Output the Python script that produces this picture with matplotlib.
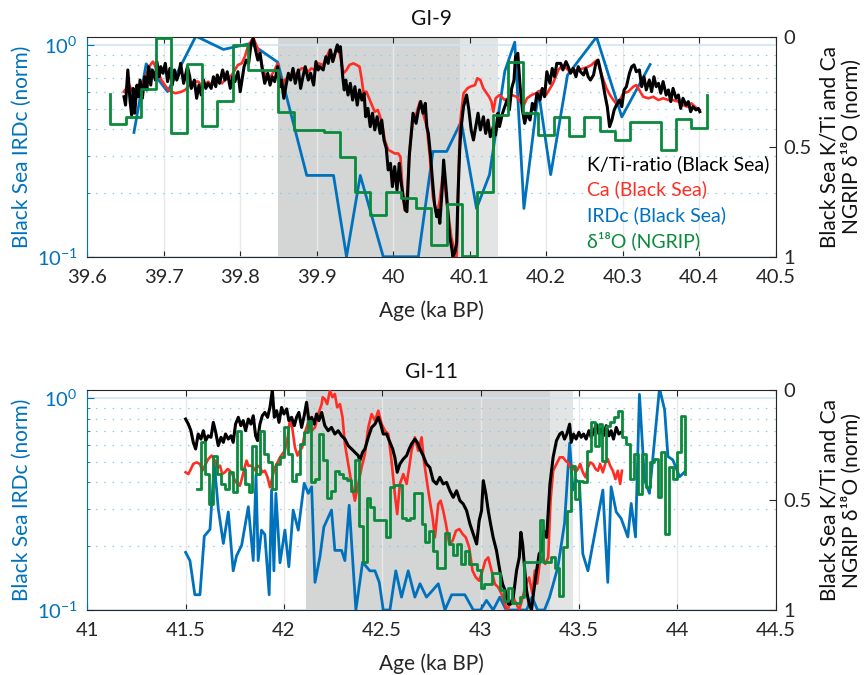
import numpy as np
import matplotlib
matplotlib.use('Agg')
import matplotlib.pyplot as plt
from matplotlib.ticker import FixedLocator, NullFormatter, FormatStrFormatter

plt.rcParams['font.family'] = ['Lato', 'DejaVu Sans']
plt.rcParams['axes.unicode_minus'] = False

C_KTI = '#000000'
C_CA = '#ff2e24'
C_IRD = '#0072bd'
C_D18O = '#0b8a3c'
C_AX = '#262626'

# ---------------- GI-9 (top panel) ----------------
# K/Ti ratio, normalised (right axis, 0 at top)
gi9_kti = [
    (39.648, 0.272), (39.650, 0.310), (39.653, 0.150), (39.656, 0.294), (39.658, 0.355),
    (39.660, 0.234), (39.662, 0.347), (39.665, 0.219), (39.667, 0.272), (39.669, 0.196),
    (39.672, 0.279), (39.675, 0.181), (39.678, 0.241), (39.680, 0.135), (39.683, 0.219),
    (39.685, 0.150), (39.689, 0.196), (39.691, 0.112), (39.694, 0.181), (39.696, 0.135),
    (39.699, 0.165), (39.702, 0.120), (39.705, 0.203), (39.708, 0.143), (39.711, 0.219),
    (39.714, 0.150), (39.717, 0.196), (39.720, 0.165), (39.722, 0.120), (39.726, 0.211),
    (39.729, 0.165), (39.731, 0.135), (39.734, 0.181), (39.736, 0.234), (39.740, 0.196),
    (39.743, 0.279), (39.746, 0.219), (39.749, 0.264), (39.752, 0.196), (39.755, 0.234),
    (39.758, 0.211), (39.762, 0.234), (39.765, 0.181), (39.768, 0.226), (39.770, 0.173),
    (39.773, 0.211), (39.777, 0.150), (39.780, 0.196), (39.783, 0.158), (39.787, 0.234),
    (39.790, 0.181), (39.793, 0.203), (39.797, 0.158), (39.800, 0.249), (39.803, 0.181),
    (39.805, 0.135), (39.808, 0.105), (39.811, 0.120), (39.814, 0.036), (39.817, 0.006),
    (39.820, 0.059), (39.823, 0.105), (39.826, 0.074), (39.829, 0.150), (39.832, 0.211),
    (39.836, 0.165), (39.839, 0.219), (39.842, 0.181), (39.845, 0.203), (39.849, 0.135),
    (39.852, 0.226), (39.854, 0.196), (39.857, 0.279), (39.860, 0.219), (39.863, 0.165),
    (39.866, 0.196), (39.869, 0.143), (39.872, 0.211), (39.876, 0.150), (39.879, 0.234),
    (39.882, 0.181), (39.885, 0.135), (39.889, 0.196), (39.892, 0.165), (39.896, 0.219),
    (39.899, 0.112), (39.902, 0.150), (39.904, 0.135), (39.9085, 0.150), (39.912, 0.090),
    (39.915, 0.120), (39.918, 0.059), (39.921, 0.112), (39.924, 0.074), (39.927, 0.036),
    (39.929, 0.067), (39.931, 0.044), (39.934, 0.181), (39.936, 0.241), (39.938, 0.196),
    (39.941, 0.264), (39.944, 0.211), (39.947, 0.287), (39.950, 0.226), (39.953, 0.310),
    (39.956, 0.241), (39.959, 0.287), (39.962, 0.256), (39.964, 0.363), (39.967, 0.325),
    (39.970, 0.408), (39.973, 0.347), (39.976, 0.423), (39.979, 0.363), (39.983, 0.439),
    (39.985, 0.378), (39.988, 0.469), (39.991, 0.507), (39.9935, 0.605), (39.9965, 0.575),
    (39.999, 0.681), (40.002, 0.590), (40.005, 0.697), (40.008, 0.575), (40.010, 0.651),
    (40.013, 0.727), (40.016, 0.788), (40.018, 0.795), (40.021, 0.545), (40.024, 0.423),
    (40.026, 0.347), (40.030, 0.393), (40.033, 0.332), (40.036, 0.294), (40.039, 0.347),
    (40.042, 0.302), (40.044, 0.408), (40.046, 0.439), (40.049, 0.545), (40.051, 0.636),
    (40.054, 0.757), (40.057, 0.818), (40.059, 0.788), (40.061, 0.848), (40.064, 0.697),
    (40.066, 0.560), (40.069, 0.681), (40.072, 0.818), (40.074, 0.909), (40.077, 0.970),
    (40.078, 1.000), (40.081, 0.977), (40.083, 0.939), (40.085, 0.697), (40.087, 0.514),
    (40.089, 0.408), (40.092, 0.317), (40.096, 0.264), (40.099, 0.332), (40.102, 0.423),
    (40.105, 0.469), (40.108, 0.408), (40.111, 0.347), (40.114, 0.423), (40.118, 0.363),
    (40.121, 0.439), (40.124, 0.378), (40.127, 0.454), (40.131, 0.408), (40.134, 0.446),
    (40.137, 0.347), (40.139, 0.408), (40.143, 0.347), (40.146, 0.317), (40.149, 0.287),
    (40.152, 0.332), (40.155, 0.234), (40.158, 0.196), (40.160, 0.090), (40.163, 0.074),
    (40.166, 0.226), (40.169, 0.332), (40.172, 0.393), (40.175, 0.347), (40.179, 0.378),
    (40.182, 0.302), (40.185, 0.332), (40.188, 0.256), (40.192, 0.287), (40.195, 0.234),
    (40.198, 0.272), (40.201, 0.158), (40.205, 0.211), (40.208, 0.143), (40.211, 0.181),
    (40.214, 0.120), (40.219, 0.120), (40.222, 0.150), (40.226, 0.112), (40.229, 0.135),
    (40.232, 0.165), (40.2355, 0.143), (40.239, 0.181), (40.242, 0.135), (40.245, 0.158),
    (40.249, 0.173), (40.252, 0.143), (40.255, 0.181), (40.258, 0.196), (40.262, 0.173),
    (40.265, 0.120), (40.268, 0.105), (40.270, 0.135), (40.274, 0.203), (40.277, 0.264),
    (40.280, 0.317), (40.283, 0.408), (40.286, 0.378), (40.289, 0.332), (40.292, 0.310),
    (40.296, 0.287), (40.299, 0.317), (40.302, 0.241), (40.305, 0.226), (40.309, 0.165),
    (40.312, 0.135), (40.315, 0.127), (40.318, 0.158), (40.322, 0.150), (40.325, 0.226),
    (40.328, 0.181), (40.331, 0.241), (40.335, 0.196), (40.338, 0.249), (40.341, 0.181),
    (40.344, 0.226), (40.347, 0.211), (40.350, 0.256), (40.353, 0.203), (40.357, 0.264),
    (40.360, 0.241), (40.363, 0.294), (40.366, 0.234), (40.370, 0.279), (40.373, 0.264),
    (40.376, 0.325), (40.379, 0.279), (40.383, 0.310), (40.386, 0.294), (40.389, 0.340),
    (40.392, 0.317), (40.396, 0.332), (40.399, 0.325), (40.401, 0.340),
]

# Ca, normalised (right axis)
gi9_ca = [
    (39.648, 0.249), (39.651, 0.234), (39.654, 0.211), (39.658, 0.241), (39.661, 0.256),
    (39.6645, 0.272), (39.668, 0.234), (39.671, 0.211), (39.675, 0.196), (39.678, 0.165),
    (39.681, 0.135), (39.684, 0.120), (39.686, 0.112), (39.689, 0.135), (39.693, 0.165),
    (39.697, 0.196), (39.7015, 0.219), (39.706, 0.241), (39.710, 0.249), (39.715, 0.256),
    (39.719, 0.253), (39.723, 0.249), (39.728, 0.241), (39.732, 0.226), (39.736, 0.211),
    (39.741, 0.203), (39.745, 0.203), (39.749, 0.219), (39.754, 0.219), (39.758, 0.203),
    (39.7625, 0.219), (39.767, 0.211), (39.771, 0.196), (39.776, 0.211), (39.780, 0.196),
    (39.784, 0.188), (39.789, 0.173), (39.793, 0.150), (39.797, 0.127), (39.802, 0.120),
    (39.806, 0.090), (39.810, 0.044), (39.815, 0.014), (39.817, 0.000), (39.819, 0.021),
    (39.823, 0.052), (39.826, 0.090), (39.829, 0.143), (39.832, 0.165), (39.837, 0.196),
    (39.841, 0.173), (39.845, 0.150), (39.849, 0.120), (39.852, 0.196), (39.855, 0.219),
    (39.858, 0.196), (39.863, 0.181), (39.867, 0.181), (39.871, 0.173), (39.876, 0.158),
    (39.880, 0.143), (39.885, 0.143), (39.889, 0.158), (39.893, 0.143), (39.898, 0.150),
    (39.902, 0.120), (39.9085, 0.127), (39.913, 0.090), (39.917, 0.059), (39.922, 0.105),
    (39.926, 0.044), (39.930, 0.074), (39.935, 0.165), (39.939, 0.150), (39.943, 0.127),
    (39.948, 0.120), (39.952, 0.127), (39.956, 0.135), (39.959, 0.196), (39.961, 0.249),
    (39.965, 0.249), (39.9695, 0.287), (39.973, 0.317), (39.976, 0.340), (39.980, 0.332),
    (39.985, 0.385), (39.989, 0.469), (39.9935, 0.514), (39.998, 0.522), (40.002, 0.530),
    (40.0065, 0.530), (40.0095, 0.545), (40.012, 0.681), (40.015, 0.788), (40.018, 0.727),
    (40.022, 0.499), (40.026, 0.378), (40.0305, 0.347), (40.035, 0.294), (40.039, 0.347),
    (40.044, 0.408), (40.048, 0.545), (40.052, 0.727), (40.057, 0.810), (40.061, 0.742),
    (40.0645, 0.636), (40.0675, 0.681), (40.072, 0.803), (40.076, 0.909), (40.081, 0.985),
    (40.083, 1.015), (40.087, 0.423), (40.089, 0.347), (40.092, 0.256), (40.097, 0.234),
    (40.101, 0.226), (40.107, 0.219), (40.110, 0.188), (40.114, 0.196), (40.118, 0.234),
    (40.121, 0.249), (40.1255, 0.272), (40.1285, 0.294), (40.131, 0.340), (40.134, 0.279),
    (40.139, 0.264), (40.146, 0.287), (40.150, 0.279), (40.155, 0.264), (40.1615, 0.272),
    (40.166, 0.294), (40.171, 0.310), (40.175, 0.279), (40.181, 0.264), (40.187, 0.256),
    (40.194, 0.241), (40.200, 0.264), (40.209, 0.211), (40.216, 0.150), (40.222, 0.127),
    (40.231, 0.158), (40.240, 0.150), (40.249, 0.143), (40.255, 0.135), (40.2595, 0.127),
    (40.264, 0.112), (40.267, 0.105), (40.270, 0.143), (40.275, 0.196), (40.279, 0.234),
    (40.2835, 0.264), (40.288, 0.287), (40.292, 0.305), (40.2965, 0.287), (40.301, 0.256),
    (40.3075, 0.249), (40.314, 0.226), (40.318, 0.219), (40.323, 0.249), (40.327, 0.272),
    (40.334, 0.279), (40.340, 0.272), (40.347, 0.287), (40.353, 0.279), (40.360, 0.287),
    (40.366, 0.287), (40.373, 0.294), (40.379, 0.310), (40.3845, 0.317), (40.390, 0.302),
    (40.397, 0.325), (40.401, 0.332),
]

# IRDc (left log axis)
gi9_irdc = [
    (39.661, 0.386), (39.677, 0.814), (39.705, 0.602), (39.742, 1.10), (39.778, 0.952),
    (39.8135, 1.016), (39.849, 0.829), (39.887, 0.242), (39.922, 0.242), (39.939, 0.100),
    (39.957, 0.242), (39.987, 0.100), (40.033, 0.100), (40.052, 0.314), (40.070, 0.314),
    (40.089, 0.435), (40.109, 0.169), (40.126, 0.244), (40.146, 0.751), (40.159, 1.03),
    (40.171, 0.169), (40.190, 0.604), (40.206, 0.244), (40.228, 0.720), (40.266, 1.09),
    (40.299, 0.457), (40.336, 0.808),
]

# NGRIP d18O, 20-yr bins (right axis)
gi9_d18o_edges = [
    39.63, 39.65, 39.67, 39.69, 39.71, 39.73, 39.75, 39.77, 39.79, 39.81,
    39.83, 39.85, 39.87, 39.89, 39.91, 39.93, 39.95, 39.97, 39.99, 40.01,
    40.03, 40.05, 40.07, 40.09, 40.11, 40.13, 40.15, 40.17, 40.19, 40.21,
    40.23, 40.25, 40.27, 40.29, 40.31, 40.33, 40.35, 40.37, 40.39, 40.41,
]
gi9_d18o = [
    0.396, 0.366, 0.238, 0.005, 0.439, 0.123, 0.404, 0.290, 0.036, 0.150,
    0.150, 0.341, 0.423, 0.425, 0.431, 0.545, 0.707, 0.810, 0.707, 0.734,
    0.780, 0.947, 0.762, 0.995, 0.707, 0.355, 0.112, 0.347, 0.446, 0.362,
    0.452, 0.365, 0.430, 0.470, 0.385, 0.385, 0.514, 0.375, 0.416,
]
gi9_d18o_ends = (0.26, 0.264)

# ---------------- GI-11 (bottom panel) ----------------
gi11_kti = [
    (41.500, 0.132), (41.514, 0.155), (41.527, 0.185), (41.539, 0.238), (41.551, 0.268),
    (41.564, 0.200), (41.578, 0.223), (41.590, 0.185), (41.602, 0.230), (41.615, 0.208),
    (41.629, 0.215), (41.641, 0.147), (41.653, 0.192), (41.666, 0.253), (41.680, 0.215),
    (41.692, 0.238), (41.703, 0.200), (41.717, 0.223), (41.731, 0.208), (41.742, 0.238),
    (41.754, 0.155), (41.768, 0.124), (41.781, 0.162), (41.793, 0.139), (41.805, 0.185),
    (41.819, 0.132), (41.832, 0.155), (41.844, 0.117), (41.856, 0.208), (41.866, 0.230),
    (41.878, 0.155), (41.890, 0.117), (41.903, 0.102), (41.917, 0.124), (41.929, 0.079),
    (41.941, 0.000), (41.951, 0.124), (41.963, 0.094), (41.975, 0.147), (41.988, 0.079),
    (42.000, 0.109), (42.014, 0.086), (42.025, 0.139), (42.039, 0.124), (42.053, 0.162),
    (42.064, 0.124), (42.076, 0.102), (42.090, 0.170), (42.103, 0.117), (42.115, 0.056),
    (42.127, 0.139), (42.141, 0.124), (42.154, 0.155), (42.166, 0.109), (42.178, 0.139),
    (42.192, 0.102), (42.208, 0.162), (42.225, 0.185), (42.242, 0.170), (42.259, 0.200),
    (42.276, 0.185), (42.293, 0.208), (42.310, 0.223), (42.327, 0.253), (42.344, 0.268),
    (42.361, 0.283), (42.378, 0.298), (42.386, 0.321), (42.400, 0.283), (42.412, 0.268),
    (42.429, 0.215), (42.446, 0.170), (42.463, 0.155), (42.480, 0.124), (42.492, 0.155),
    (42.505, 0.200), (42.522, 0.200), (42.539, 0.238), (42.553, 0.268), (42.564, 0.306),
    (42.576, 0.374), (42.590, 0.336), (42.607, 0.314), (42.624, 0.298), (42.637, 0.268),
    (42.649, 0.245), (42.666, 0.223), (42.678, 0.238), (42.692, 0.268), (42.708, 0.298),
    (42.725, 0.336), (42.742, 0.352), (42.759, 0.412), (42.776, 0.427), (42.793, 0.397),
    (42.810, 0.427), (42.827, 0.420), (42.844, 0.458), (42.861, 0.488), (42.878, 0.458),
    (42.895, 0.503), (42.912, 0.518), (42.929, 0.548), (42.946, 0.609), (42.963, 0.655),
    (42.980, 0.700), (42.993, 0.594), (43.005, 0.548), (43.014, 0.412), (43.027, 0.473),
    (43.039, 0.548), (43.051, 0.609), (43.064, 0.670), (43.081, 0.730), (43.098, 0.821),
    (43.112, 0.882), (43.125, 0.912), (43.141, 0.973), (43.153, 0.973), (43.166, 0.943),
    (43.183, 0.821), (43.197, 0.761), (43.205, 0.647), (43.214, 0.700), (43.225, 0.821),
    (43.234, 0.912), (43.247, 0.973), (43.259, 1.000), (43.271, 0.912), (43.285, 0.821),
    (43.298, 0.745), (43.310, 0.730), (43.322, 0.640), (43.336, 0.670), (43.353, 0.427),
    (43.369, 0.306), (43.386, 0.230), (43.403, 0.200), (43.415, 0.192), (43.427, 0.223),
    (43.439, 0.200), (43.453, 0.155), (43.461, 0.238), (43.473, 0.200), (43.486, 0.223),
    (43.500, 0.192), (43.512, 0.215), (43.524, 0.200), (43.537, 0.223), (43.551, 0.185),
    (43.563, 0.215), (43.575, 0.192), (43.588, 0.155), (43.602, 0.200), (43.614, 0.177),
    (43.625, 0.208), (43.639, 0.162), (43.653, 0.208), (43.664, 0.185), (43.676, 0.223),
    (43.690, 0.170), (43.703, 0.200), (43.715, 0.192),
]

gi11_ca = [
    (41.500, 0.374), (41.514, 0.382), (41.527, 0.359), (41.539, 0.336), (41.556, 0.329),
    (41.573, 0.336), (41.585, 0.367), (41.598, 0.344), (41.615, 0.314), (41.632, 0.298),
    (41.649, 0.321), (41.663, 0.352), (41.675, 0.344), (41.686, 0.382), (41.700, 0.374),
    (41.714, 0.359), (41.725, 0.367), (41.737, 0.382), (41.751, 0.412), (41.764, 0.427),
    (41.776, 0.435), (41.788, 0.397), (41.798, 0.359), (41.810, 0.321), (41.819, 0.344),
    (41.832, 0.344), (41.844, 0.352), (41.856, 0.367), (41.866, 0.344), (41.878, 0.352),
    (41.890, 0.374), (41.903, 0.367), (41.917, 0.397), (41.929, 0.442), (41.941, 0.397),
    (41.954, 0.352), (41.968, 0.329), (41.980, 0.306), (41.992, 0.291), (42.005, 0.276),
    (42.019, 0.215), (42.031, 0.132), (42.042, 0.170), (42.056, 0.261), (42.069, 0.298),
    (42.081, 0.276), (42.093, 0.261), (42.107, 0.192), (42.124, 0.147), (42.141, 0.185),
    (42.158, 0.170), (42.175, 0.109), (42.192, 0.064), (42.197, 0.033), (42.208, 0.041),
    (42.220, 0.064), (42.234, 0.003), (42.247, 0.033), (42.259, 0.018), (42.271, 0.079),
    (42.285, 0.064), (42.298, 0.124), (42.310, 0.245), (42.327, 0.336), (42.344, 0.427),
    (42.361, 0.503), (42.378, 0.427), (42.395, 0.352), (42.412, 0.291), (42.429, 0.170),
    (42.446, 0.109), (42.463, 0.139), (42.480, 0.094), (42.497, 0.155), (42.514, 0.185),
    (42.531, 0.200), (42.547, 0.321), (42.564, 0.473), (42.576, 0.564), (42.590, 0.427),
    (42.607, 0.382), (42.624, 0.427), (42.637, 0.352), (42.649, 0.276), (42.666, 0.215),
    (42.683, 0.276), (42.700, 0.215), (42.712, 0.321), (42.729, 0.427), (42.742, 0.503),
    (42.756, 0.579), (42.768, 0.670), (42.785, 0.518), (42.797, 0.503), (42.810, 0.548),
    (42.824, 0.609), (42.841, 0.700), (42.858, 0.685), (42.875, 0.640), (42.892, 0.632),
    (42.909, 0.655), (42.925, 0.670), (42.942, 0.715), (42.959, 0.821), (42.976, 0.852),
    (42.993, 0.867), (43.010, 0.821), (43.024, 0.776), (43.039, 0.761), (43.056, 0.821),
    (43.073, 0.882), (43.090, 0.897), (43.107, 0.927), (43.124, 0.973), (43.136, 1.000),
    (43.149, 0.973), (43.166, 0.943), (43.183, 0.973), (43.197, 1.000), (43.214, 0.943),
    (43.231, 0.882), (43.247, 0.852), (43.264, 0.927), (43.276, 0.821), (43.288, 0.880),
    (43.302, 0.776), (43.315, 0.761), (43.329, 0.791), (43.344, 0.761), (43.356, 0.503),
    (43.369, 0.367), (43.386, 0.336), (43.403, 0.306), (43.419, 0.306), (43.432, 0.321),
    (43.444, 0.329), (43.456, 0.352), (43.469, 0.344), (43.483, 0.374), (43.495, 0.359),
    (43.507, 0.336), (43.520, 0.374), (43.534, 0.397), (43.546, 0.352), (43.558, 0.329),
    (43.571, 0.336), (43.585, 0.359), (43.597, 0.367), (43.608, 0.336), (43.622, 0.374),
    (43.636, 0.329), (43.647, 0.314), (43.659, 0.344), (43.673, 0.367), (43.686, 0.405),
    (43.698, 0.367), (43.710, 0.427), (43.719, 0.367),
]

gi11_irdc = [
    (41.500, 0.187), (41.522, 0.171), (41.547, 0.118), (41.573, 0.118), (41.595, 0.223),
    (41.624, 0.240), (41.646, 0.492), (41.666, 0.301), (41.692, 0.206), (41.717, 0.290),
    (41.742, 0.153), (41.759, 0.180), (41.785, 0.202), (41.819, 0.307), (41.844, 0.171),
    (41.858, 0.434), (41.869, 0.171), (41.886, 0.238), (41.903, 0.227), (41.925, 0.118),
    (41.937, 0.368), (41.949, 0.153), (41.959, 0.355), (41.980, 0.167), (42.005, 0.238),
    (42.025, 0.160), (42.047, 0.296), (42.073, 0.238), (42.103, 0.396), (42.124, 0.355),
    (42.141, 0.381), (42.158, 0.135), (42.183, 0.178), (42.203, 0.246), (42.242, 0.296),
    (42.259, 0.191), (42.293, 0.191), (42.310, 0.171), (42.332, 0.312), (42.366, 0.100),
    (42.400, 0.168), (42.437, 0.153), (42.463, 0.153), (42.485, 0.135), (42.505, 0.100),
    (42.539, 0.100), (42.569, 0.153), (42.598, 0.115), (42.632, 0.153), (42.666, 0.115),
    (42.692, 0.133), (42.725, 0.115), (42.760, 0.125), (42.785, 0.133), (42.819, 0.100),
    (42.853, 0.118), (42.920, 0.118), (42.963, 0.100), (43.000, 0.100), (43.030, 0.111),
    (43.064, 0.100), (43.098, 0.115), (43.130, 0.100), (43.234, 0.100), (43.262, 0.115),
    (43.290, 0.100), (43.325, 0.100), (43.351, 0.115), (43.393, 0.159), (43.427, 0.256),
    (43.453, 0.612), (43.470, 0.368), (43.486, 0.410), (43.503, 0.400), (43.520, 0.184),
    (43.546, 0.153), (43.622, 0.368), (43.647, 0.135), (43.664, 0.381), (43.690, 0.290),
    (43.715, 0.270), (43.749, 0.221), (43.766, 0.318), (43.788, 0.221), (43.808, 1.04),
    (43.834, 0.410), (43.859, 0.355), (43.910, 1.11), (43.936, 0.880), (43.953, 0.530),
    (43.978, 0.510), (44.012, 0.425), (44.037, 0.447),
]

gi11_d18o_edges = [
    41.56, 41.58, 41.60, 41.62, 41.64, 41.66, 41.68, 41.70, 41.72, 41.74,
    41.76, 41.78, 41.80, 41.82, 41.84, 41.86, 41.88, 41.90, 41.92, 41.94,
    41.96, 41.98, 42.00, 42.02, 42.04, 42.06, 42.08, 42.10, 42.12, 42.14,
    42.16, 42.18, 42.20, 42.22, 42.24, 42.26, 42.28, 42.30, 42.32, 42.34,
    42.36, 42.38, 42.40, 42.42, 42.44, 42.46, 42.48, 42.50, 42.52, 42.54,
    42.56, 42.58, 42.60, 42.62, 42.64, 42.66, 42.68, 42.70, 42.72, 42.74,
    42.76, 42.78, 42.80, 42.82, 42.84, 42.86, 42.88, 42.90, 42.92, 42.94,
    42.96, 42.98, 43.00, 43.02, 43.04, 43.06, 43.08, 43.10, 43.12, 43.14,
    43.16, 43.18, 43.20, 43.22, 43.24, 43.26, 43.28, 43.30, 43.32, 43.34,
    43.36, 43.38, 43.40, 43.42, 43.44, 43.46, 43.48, 43.50, 43.52, 43.54,
    43.56, 43.58, 43.60, 43.62, 43.64, 43.66, 43.68, 43.70, 43.72, 43.74,
    43.76, 43.78, 43.80, 43.82, 43.84, 43.86, 43.88, 43.90, 43.92, 43.94,
    43.96, 43.98, 44.00, 44.02, 44.04,
]
gi11_d18o = [
    0.450, 0.238, 0.382, 0.518, 0.298, 0.382, 0.427, 0.450, 0.374, 0.465,
    0.185, 0.359, 0.427, 0.465, 0.253, 0.382, 0.185, 0.291, 0.329, 0.450,
    0.336, 0.306, 0.170, 0.291, 0.412, 0.382, 0.245, 0.192, 0.139, 0.420,
    0.405, 0.200, 0.320, 0.490, 0.460, 0.370, 0.380, 0.400, 0.410, 0.460,
    0.320, 0.620, 0.780, 0.490, 0.530, 0.590, 0.590, 0.590, 0.670, 0.440,
    0.430, 0.430, 0.580, 0.590, 0.580, 0.470, 0.470, 0.610, 0.690, 0.640,
    0.730, 0.810, 0.810, 0.650, 0.700, 0.750, 0.700, 0.790, 0.730, 0.790,
    0.790, 0.820, 0.900, 0.880, 0.880, 0.830, 0.830, 0.910, 0.960, 0.900,
    0.970, 0.970, 0.940, 0.780, 0.780, 0.780, 0.780, 0.590, 0.780, 0.780,
    0.760, 0.810, 0.935, 0.715, 0.548, 0.344, 0.495, 0.412, 0.420, 0.276,
    0.147, 0.253, 0.155, 0.321, 0.162, 0.147, 0.124, 0.094, 0.215, 0.245,
    0.405, 0.291, 0.473, 0.291, 0.442, 0.329, 0.314, 0.488, 0.283, 0.655,
    0.352, 0.405, 0.283, 0.117,
]
gi11_d18o_ends = (0.45, 0.382)

legend_labels = ['K/Ti-ratio (Black Sea)', 'Ca (Black Sea)', 'IRDc (Black Sea)', 'δ¹⁸O (NGRIP)']
legend_colors = [C_KTI, C_CA, C_IRD, C_D18O]

FS_TICK = 14.5
FS_LABEL = 15


def unzip(pairs):
    a = np.array(pairs)
    return a[:, 0], a[:, 1]


def draw_panel(ax, title, xlim, xticks, dark, light, kti, ca, ird,
               d_edges, d_vals, d_ends):
    ax.set_yscale('log')
    ax.set_xlim(*xlim)
    ax.set_ylim(0.1, 1.09)

    # shaded intervals
    ax.axvspan(*dark, color='#d4d5d5', lw=0, zorder=0.1)
    ax.axvspan(*light, color='#e3e4e4', lw=0, zorder=0.1)
    ax.set_axisbelow(True)

    ax.set_xticks(xticks)
    ax.xaxis.set_major_formatter(FormatStrFormatter('%g'))
    ax.yaxis.set_major_locator(FixedLocator([0.1, 1.0]))
    ax.set_yticklabels([r'$\mathregular{10^{-1}}$', r'$\mathregular{10^{0}}$'])
    ax.yaxis.set_minor_locator(FixedLocator([0.2, 0.3, 0.4, 0.5, 0.6, 0.7, 0.8, 0.9]))
    ax.yaxis.set_minor_formatter(NullFormatter())

    ax.grid(axis='x', color='#e8e8e8', lw=1.0)
    ax.grid(axis='y', which='major', color='#cfe5f4', lw=1.2, ls='-')
    ax.grid(axis='y', which='minor', color='#8fcbec', lw=0.9, ls=(0, (1.2, 5.5)))

    ax.tick_params(axis='x', direction='in', top=True, length=4, width=0.8,
                   color=C_AX, labelcolor=C_AX, labelsize=FS_TICK, pad=9)
    ax.tick_params(axis='y', which='major', direction='in', length=5, width=0.8,
                   color=C_IRD, labelcolor=C_IRD, labelsize=FS_TICK, pad=7)
    ax.tick_params(axis='y', which='minor', direction='in', length=2.5, width=0.6,
                   color=C_IRD)
    for s in ('top', 'bottom'):
        ax.spines[s].set_color(C_AX)
    ax.spines['left'].set_color(C_IRD)
    ax.spines['right'].set_visible(False)

    x, y = unzip(ird)
    ax.plot(x, y, color=C_IRD, lw=2.0, zorder=2)

    ax2 = ax.twinx()
    ax2.set_ylim(1, 0)
    ax2.set_yticks([0, 0.5, 1])
    ax2.set_yticklabels(['0', '0.5', '1'])
    ax2.tick_params(axis='y', direction='in', length=5, width=0.8, color=C_AX,
                    labelcolor=C_AX, labelsize=FS_TICK, pad=6)
    for s in ('left', 'top', 'bottom'):
        ax2.spines[s].set_visible(False)
    ax2.spines['right'].set_color(C_AX)

    x, y = unzip(ca)
    ax2.plot(x, y, color=C_CA, lw=1.9)
    x, y = unzip(kti)
    ax2.plot(x, y, color=C_KTI, lw=2.2)
    sx = list(d_edges) + [d_edges[-1]]
    sy = [d_ends[0]] + list(d_vals) + [d_ends[1]]
    ax2.step(sx, sy, where='pre', color=C_D18O, lw=2.0)

    ax.set_title(title, fontsize=FS_LABEL, pad=8.5, color='#111111')
    ax.set_xlabel('Age (ka BP)', fontsize=FS_LABEL, color=C_AX, labelpad=10)
    return ax2


fig = plt.figure(figsize=(8.66, 6.75), dpi=100)
ax_top = fig.add_axes([0.1008, 0.6197, 0.7947, 0.3255])
ax_bot = fig.add_axes([0.1008, 0.0963, 0.7947, 0.3259])

ax_top2 = draw_panel(ax_top, 'GI-9', (39.6, 40.5),
                     [39.6, 39.7, 39.8, 39.9, 40.0, 40.1, 40.2, 40.3, 40.4, 40.5],
                     (39.85, 40.088), (40.088, 40.137),
                     gi9_kti, gi9_ca, gi9_irdc, gi9_d18o_edges, gi9_d18o, gi9_d18o_ends)
ax_bot2 = draw_panel(ax_bot, 'GI-11', (41.0, 44.5),
                     [41.0, 41.5, 42.0, 42.5, 43.0, 43.5, 44.0, 44.5],
                     (42.11, 43.352), (43.352, 43.47),
                     gi11_kti, gi11_ca, gi11_irdc, gi11_d18o_edges, gi11_d18o, gi11_d18o_ends)

# text-only legend in the top panel
for i, (lab, col) in enumerate(zip(legend_labels, legend_colors)):
    ax_top2.text(0.726, 0.395 - i * 0.117, lab, color=col, fontsize=14,
                 transform=ax_top.transAxes, ha='left', va='baseline')

# y labels
for ax in (ax_top, ax_bot):
    pos = ax.get_position()
    cy = pos.y0 + pos.height / 2
    fig.text(22 / 866, cy, 'Black Sea IRDc (norm)', rotation=90, color=C_IRD,
             fontsize=FS_LABEL, ha='center', va='center')
    fig.text(841 / 866, cy, 'Black Sea K/Ti and Ca\nNGRIP δ¹⁸O (norm)', rotation=90,
             color='#111111', fontsize=FS_LABEL, ha='center', va='center',
             multialignment='center', linespacing=1.15)

fig.savefig('out.png', dpi=100)
